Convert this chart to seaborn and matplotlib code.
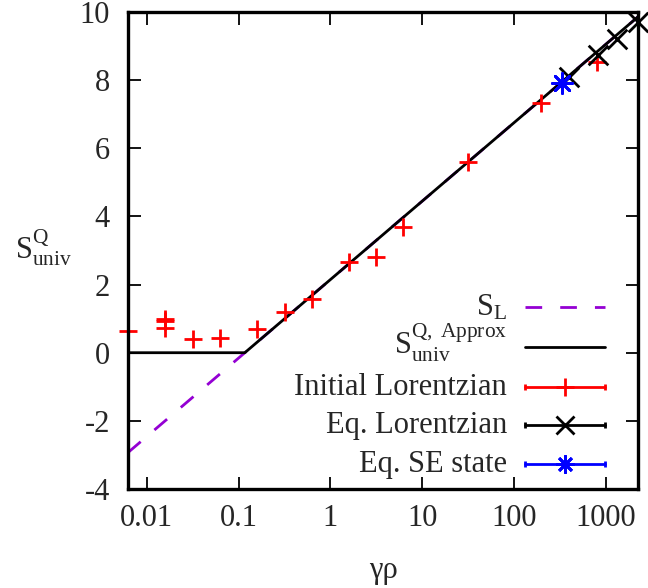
import numpy as np
import matplotlib
matplotlib.use("Agg")
import matplotlib.pyplot as plt
import seaborn as sns
from matplotlib.ticker import FixedLocator, FixedFormatter, LogLocator, NullFormatter

# Initial Lorentzian states
gamma_init = [0.00626, 0.0157, 0.0157, 0.0157, 0.0318, 0.0636, 0.159, 0.318,
              0.632, 1.58, 3.11, 6.18, 31.5, 196, 798]
s_init = [0.64, 0.99, 0.92, 0.72, 0.39, 0.42, 0.69, 1.20,
          1.58, 2.65, 2.82, 3.70, 5.61, 7.34, 8.54]

# Equilibrated Lorentzian states
gamma_eq = [392, 811, 1318, 2230]
s_eq = [8.08, 8.74, 9.20, 9.72]

# Equilibrated SE state
gamma_se = [332]
s_se = [7.93]

# S_L (straight on a log axis) and the approximate universal entropy
gamma_sl = [0.00626, 2230]
s_sl = [-2.93, 9.86]
gamma_approx = [0.00626, 0.117, 2230]
s_approx = [0.0, 0.0, 9.86]

xticks = [0.01, 0.1, 1, 10, 100, 1000]
xticklabels = ["0.01", "0.1", "1", "10", "100", "1000"]
yticks = [-4, -2, 0, 2, 4, 6, 8, 10]
yticklabels = ["-4", "-2", "0", "2", "4", "6", "8", "10"]

key_labels = ["S$_{\\mathrm{L}}$",
              "S$^{\\mathrm{Q,\\ Approx}}_{\\mathrm{univ}}$",
              "Initial Lorentzian",
              "Eq. Lorentzian",
              "Eq. SE state"]

PURPLE = "#9400D3"
FS = 22
LW = 2.0
DASH = (0, (6.0, 6.5))
AST = (8, 2, 0)

sns.set_theme(style="ticks")
plt.rcParams.update({
    "font.family": ["Liberation Serif", "DejaVu Serif"],
    "mathtext.fontset": "custom",
    "mathtext.rm": "Liberation Serif",
    "mathtext.it": "Liberation Serif:italic",
    "mathtext.bf": "Liberation Serif:bold",
    "axes.unicode_minus": False,
    "font.size": FS,
})

W, H = 648, 588
AX_L, AX_R, AX_T, AX_B = 128, 638, 12, 489
fig = plt.figure(figsize=(W / 100, H / 100), dpi=100)
ax = fig.add_axes([AX_L / W, (H - AX_B) / H, (AX_R - AX_L) / W, (AX_B - AX_T) / H])

sns.lineplot(x=gamma_sl, y=s_sl, ax=ax, color=PURPLE, linewidth=LW,
             linestyle=DASH, zorder=2)
sns.lineplot(x=gamma_approx, y=s_approx, ax=ax, color="black", linewidth=LW, zorder=3)

sns.scatterplot(x=gamma_init, y=s_init, ax=ax, marker="+", s=185, color="red",
                linewidth=LW, clip_on=False, zorder=4)
sns.scatterplot(x=gamma_eq, y=s_eq, ax=ax, marker="x", s=200, color="black",
                linewidth=LW, clip_on=False, zorder=5)
sns.scatterplot(x=gamma_se, y=s_se, ax=ax, marker=AST, s=210, color="blue",
                linewidth=LW, clip_on=False, zorder=6)

ax.set_xscale("log")
ax.set_xlim(0.00626, 2230)
ax.set_ylim(-4, 10)

ax.xaxis.set_major_locator(FixedLocator(xticks))
ax.xaxis.set_major_formatter(FixedFormatter(xticklabels))
ax.xaxis.set_minor_locator(LogLocator(base=10, subs=np.arange(2, 10)))
ax.xaxis.set_minor_formatter(NullFormatter())
ax.yaxis.set_major_locator(FixedLocator(yticks))
ax.yaxis.set_major_formatter(FixedFormatter(yticklabels))

ax.tick_params(which="both", direction="in", top=True, right=True,
               color="black", width=1.3, labelsize=FS)
ax.tick_params(which="major", length=9)
ax.tick_params(which="minor", length=4.5)
ax.tick_params(axis="y", pad=13)
ax.tick_params(axis="x", pad=11)

for sp in ax.spines.values():
    sp.set_linewidth(2.4)
    sp.set_color("black")
    sp.set_zorder(10)

ax.set_xlabel("γρ", fontsize=FS, va="center")
ax.xaxis.set_label_coords(0.5, -0.17)
ax.set_ylabel("S$^{\\mathrm{Q}}_{\\mathrm{univ}}$", fontsize=FS, rotation=0,
              ha="center", va="center")
ax.yaxis.set_label_coords(-0.166, 0.505)

# key, gnuplot style: right-aligned labels with the sample to their right
def to_ax(px, py):
    return (px - AX_L) / (AX_R - AX_L), (AX_B - py) / (AX_B - AX_T)

baselines = [315, 355, 395, 433, 472]
text_right, s0, s1 = 507, 525, 605
key_styles = [
    dict(color=PURPLE, ls=DASH, marker=None, ms=0, caps=False),
    dict(color="black", ls="-", marker=None, ms=0, caps=False),
    dict(color="red", ls="-", marker="+", ms=13.5, caps=True),
    dict(color="black", ls="-", marker="x", ms=12.5, caps=True),
    dict(color="blue", ls="-", marker=AST, ms=13.0, caps=True),
]
for label, base, st in zip(key_labels, baselines, key_styles):
    tx, ty = to_ax(text_right, base)
    ax.text(tx, ty, label, transform=ax.transAxes, ha="right", va="baseline",
            fontsize=FS)
    (xa, y), (xb, _) = to_ax(s0, base - 8.5), to_ax(s1, base - 8.5)
    ax.plot([xa, xb], [y, y], transform=ax.transAxes, color=st["color"],
            linestyle=st["ls"], linewidth=LW, clip_on=False, zorder=7)
    if st["caps"]:
        ax.plot([xa, xb], [y, y], transform=ax.transAxes, color=st["color"],
                linestyle="none", marker="|", markersize=5, markeredgewidth=LW,
                clip_on=False, zorder=7)
    if st["marker"] is not None:
        ax.plot([(xa + xb) / 2], [y], transform=ax.transAxes, color=st["color"],
                linestyle="none", marker=st["marker"], markersize=st["ms"],
                markeredgewidth=LW, clip_on=False, zorder=8)

fig.savefig("out.png", dpi=100)
